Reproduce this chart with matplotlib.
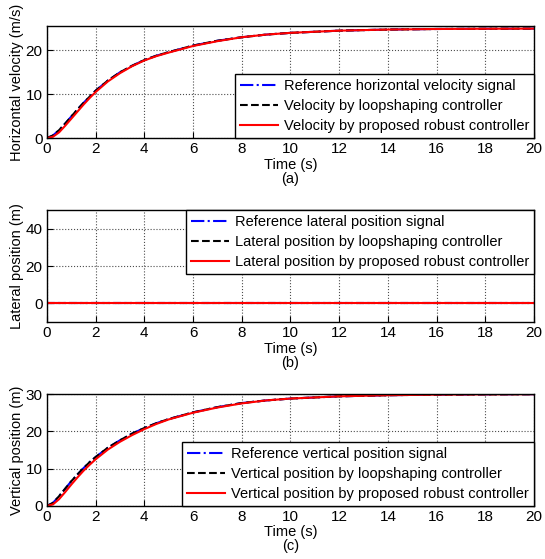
import numpy as np
import matplotlib
matplotlib.use("Agg")
import matplotlib.pyplot as plt

plt.rcParams['font.family'] = ['Liberation Sans', 'DejaVu Sans']
plt.rcParams['font.size'] = 10

# time samples (s)
t = [0, 0.25, 0.5, 0.75, 1, 1.25, 1.5, 1.75, 2, 2.5, 3, 3.5, 4, 4.5, 5, 6, 7, 8, 9, 10, 12, 14, 16, 18, 20]

# horizontal velocity (m/s)
vx_ref = [0, 0.6, 1.8, 3.3, 4.9, 6.5, 8.0, 9.4, 10.8, 13.1, 15.0, 16.5, 17.8, 18.8, 19.6, 21.1, 22.2, 23.0, 23.6, 24.0, 24.5, 24.75, 24.88, 24.94, 24.97]
vx_ls = [0, 0.6, 1.8, 3.3, 4.9, 6.5, 8.0, 9.4, 10.8, 13.1, 15.0, 16.5, 17.8, 18.8, 19.6, 21.1, 22.2, 23.0, 23.6, 24.0, 24.5, 24.75, 24.88, 24.94, 24.97]
vx_rob = [0, 0.3, 1.3, 2.8, 4.4, 6.0, 7.6, 9.1, 10.5, 12.9, 14.8, 16.4, 17.7, 18.7, 19.5, 21.0, 22.1, 23.0, 23.6, 24.0, 24.5, 24.75, 24.88, 24.94, 24.97]

# lateral position (m)
y_ref = [0] * len(t)
y_ls = [0] * len(t)
y_rob = [0] * len(t)

# vertical position (m)
z_ref = [0, 0.8, 2.6, 4.6, 6.6, 8.4, 10.1, 11.7, 13.1, 15.6, 17.6, 19.4, 20.9, 22.2, 23.3, 25.1, 26.5, 27.6, 28.3, 28.8, 29.4, 29.7, 29.85, 29.93, 29.97]
z_ls = [0, 0.8, 2.6, 4.6, 6.6, 8.4, 10.1, 11.7, 13.1, 15.6, 17.6, 19.4, 20.9, 22.2, 23.3, 25.1, 26.5, 27.6, 28.3, 28.8, 29.4, 29.7, 29.85, 29.93, 29.97]
z_rob = [0, 0.4, 1.8, 3.7, 5.7, 7.6, 9.4, 11.0, 12.5, 15.1, 17.2, 19.0, 20.6, 22.0, 23.2, 25.0, 26.4, 27.5, 28.3, 28.8, 29.4, 29.7, 29.85, 29.93, 29.97]

panels = [
    dict(ref=vx_ref, ls=vx_ls, rob=vx_rob, ylabel='Horizontal velocity (m/s)', tag='(a)',
         ylim=(0, 25.5), yticks=[0, 10, 20], loc='lower right',
         labels=['Reference horizontal velocity signal', 'Velocity by loopshaping controller',
                 'Velocity by proposed robust controller'],
         pos=[0.086, 0.753, 0.894, 0.200]),
    dict(ref=y_ref, ls=y_ls, rob=y_rob, ylabel='Lateral position (m)', tag='(b)',
         ylim=(-10, 50), yticks=[0, 20, 40], loc='upper right',
         labels=['Reference lateral position signal', 'Lateral position by loopshaping controller',
                 'Lateral position by proposed robust controller'],
         pos=[0.086, 0.424, 0.894, 0.200]),
    dict(ref=z_ref, ls=z_ls, rob=z_rob, ylabel='Vertical position (m)', tag='(c)',
         ylim=(0, 30), yticks=[0, 10, 20, 30], loc='lower right',
         labels=['Reference vertical position signal', 'Vertical position by loopshaping controller',
                 'Vertical position by proposed robust controller'],
         pos=[0.086, 0.095, 0.894, 0.200]),
]

fig = plt.figure(figsize=(5.45, 5.59), dpi=100)
for p in panels:
    ax = fig.add_axes(p['pos'])
    ax.plot(t, p['ref'], color='blue', ls='-.', lw=1.5, label=p['labels'][0])
    ax.plot(t, p['ls'], color='black', ls='--', lw=1.5, label=p['labels'][1])
    ax.plot(t, p['rob'], color='red', ls='-', lw=1.5, label=p['labels'][2])
    ax.set_xlim(0, 20)
    ax.set_xticks(np.arange(0, 21, 2))
    ax.set_ylim(*p['ylim'])
    ax.set_yticks(p['yticks'])
    ax.grid(True, ls=':', color='0.3', lw=0.8)
    ax.tick_params(direction='in', length=4, labelsize=11, pad=3)
    ax.set_xlabel('Time (s)\n' + p['tag'], fontsize=10.5, labelpad=1, linespacing=1.0)
    ax.set_ylabel(p['ylabel'], fontsize=10.5, labelpad=1)
    for s in ax.spines.values():
        s.set_linewidth(1.0)
    leg = ax.legend(loc=p['loc'], fontsize=10.5, fancybox=False, framealpha=1,
                    edgecolor='black', borderaxespad=0, handlelength=2.6,
                    handletextpad=0.4, borderpad=0.35, labelspacing=0.4)
    leg.get_frame().set_linewidth(1.0)

fig.savefig('out.png', dpi=100)
